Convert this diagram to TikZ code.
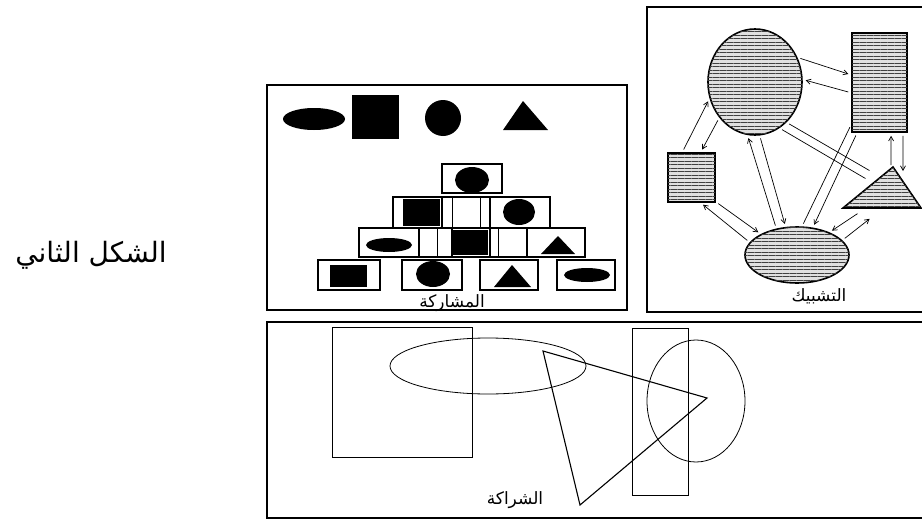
\documentclass[tikz,border=0pt]{standalone}
\usepackage{fontspec}
\newfontfamily\arabicfont[Script=Arabic]{DejaVu Sans}
\TeXXeTstate=1
\usetikzlibrary{shapes.geometric,patterns.meta,arrows.meta}

\begin{document}
\begin{tikzpicture}[x=1pt,y=-1pt,line width=0.8pt,
  >={Straight Barb[length=4.5pt,width=5pt]},
  panel/.style={draw,line width=1.3pt},
  tile/.style={draw,line width=1.4pt},
  grain/.style={draw,line width=1.6pt,fill=black!12,
    postaction={pattern={Lines[angle=0,distance=3.5pt,line width=0.7pt]},pattern color=black!75}},
  link/.style={->,line width=0.7pt,shorten <=3pt,shorten >=3pt},
  caption/.style={font=\arabicfont\fontsize{17}{20}\selectfont,inner sep=1pt}]
  \useasboundingbox (0,0) rectangle (922,525);

  \node[font=\arabicfont\fontsize{28}{33}\selectfont] (title) at (91,255)
    {\beginR الشكل الثاني\endR};

  % the three panels
  \draw[panel] (267,85) rectangle (627,310);
  \draw[panel] (647,7) rectangle (925,312);
  \draw[panel] (267,322) rectangle (925,518);

  % participation: the four shapes, then the stacked tiles
  \fill (314,119) ellipse [x radius=31,y radius=11];
  \fill (352,95) rectangle (399,139);
  \fill (443,118) ellipse [x radius=18,y radius=18];
  \fill (523,101) -- (503,130) -- (548,130) -- cycle;

  \foreach \xa/\ya/\xb/\yb in {442/164/502/193,
      393/197/442/228, 442/197/490/228, 490/197/550/228,
      359/228/419/257, 419/228/452/257, 452/228/490/257, 490/228/527/257, 527/228/585/257,
      318/260/380/290, 402/260/462/290, 480/260/538/290, 557/260/615/290}
    \draw[tile] (\xa,\ya) rectangle (\xb,\yb);
  \foreach \x/\ya/\yb in {452/197/228, 480/197/228, 437/228/257, 498/228/257}
    \draw (\x,\ya) -- (\x,\yb);

  \fill (472,180) ellipse [x radius=17,y radius=13];
  \fill (403,199) rectangle (440,226);
  \fill (519,212) ellipse [x radius=16,y radius=13];
  \fill (389,245) ellipse [x radius=23,y radius=7];
  \fill (453,230) rectangle (488,255);
  \fill (558,236) -- (541,254) -- (575,254) -- cycle;
  \fill (330,265) rectangle (367,287);
  \fill (433,274) ellipse [x radius=17,y radius=13];
  \fill (512,265) -- (494,287) -- (531,287) -- cycle;
  \fill (587,275) ellipse [x radius=23,y radius=7];
  \node[caption] (lblpart) at (452,303) {\beginR المشاركة\endR};

  % networking
  \node[grain,ellipse,minimum width=94,minimum height=106] (big) at (755,82) {};
  \node[grain,minimum width=55,minimum height=99] (tall) at (879.5,82.5) {};
  \node[grain,minimum width=47,minimum height=49] (small) at (691.5,177.5) {};
  \node[grain,ellipse,minimum width=104,minimum height=56] (net) at (797,255) {};
  \draw[grain] (893,167) coordinate (triA) -- (843,208) coordinate (triB)
    -- (921,208) coordinate (triC) -- cycle;
  \coordinate (tri-w1) at (868,180);
  \coordinate (tri-w2) at (872,172);
  \coordinate (tri-n1) at (891,168);
  \coordinate (tri-n2) at (903,174);
  \coordinate (tri-s1) at (860,212);
  \coordinate (tri-s2) at (872,217);

  \draw[link] (big.30) -- (tall.165);
  \draw[link] (tall.200) -- (big.3);
  \draw[link] (small.110) -- (big.200);
  \draw[link] (big.225) -- (small.70);
  \draw[link] (net.128) -- (big.262);
  \draw[link] (big.275) -- (net.112);
  \draw[link,-] (tall.236) -- (net.80);
  \draw[link] (tall.246) -- (net.60);
  \draw[link,-] (big.298) -- (tri-w1);
  \draw[link,-] (big.308) -- (tri-w2);
  \draw[link] (tri-n1) -- (tall.283);
  \draw[link] (tall.295) -- (tri-n2);
  \draw[link] (net.165) -- (small.290);
  \draw[link] (small.315) -- (net.150);
  \draw[link] (tri-s1) -- (net.35);
  \draw[link] (net.18) -- (tri-s2);
  \node[caption] (lblnet) at (819,296) {\beginR التشبيك\endR};

  % partnership
  \draw (332,327) rectangle (472,457);
  \draw (488,366) ellipse [x radius=98,y radius=28];
  \draw[line width=1.1pt] (543,351) -- (707,398) -- (580,505) -- cycle;
  \draw (632,328) rectangle (688,495);
  \draw (696,401) ellipse [x radius=49,y radius=61];
  \node[caption] (lblpartner) at (515,500) {\beginR الشراكة\endR};
\end{tikzpicture}
\end{document}
